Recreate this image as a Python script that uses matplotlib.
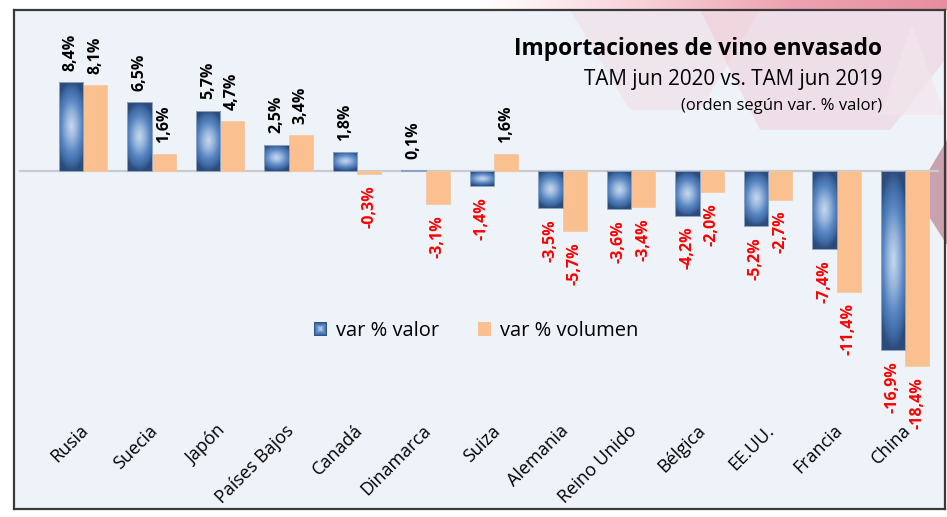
import numpy as np
import matplotlib
matplotlib.use('Agg')
import matplotlib.pyplot as plt
from matplotlib.patches import Rectangle, Polygon
from matplotlib.colors import LinearSegmentedColormap
from matplotlib.legend_handler import HandlerBase

# ---------------- data ----------------
categories = ['Rusia', 'Suecia', 'Japón', 'Países Bajos', 'Canadá', 'Dinamarca', 'Suiza',
              'Alemania', 'Reino Unido', 'Bélgica', 'EE.UU.', 'Francia', 'China']
var_valor = [8.4, 6.5, 5.7, 2.5, 1.8, 0.1, -1.4, -3.5, -3.6, -4.2, -5.2, -7.4, -16.9]
var_volumen = [8.1, 1.6, 4.7, 3.4, -0.3, -3.1, 1.6, -5.7, -3.4, -2.0, -2.7, -11.4, -18.4]
series_names = ['var % valor', 'var % volumen']
title_lines = ['Importaciones de vino envasado', 'TAM jun 2020 vs. TAM jun 2019',
               '(orden según var. % valor)']

# ---------------- style ----------------
plt.rcParams['font.family'] = ['Open Sans', 'DejaVu Sans']
W, H = 947, 517
BG = '#EEF2F9'
ORANGE = '#FAC08F'
blue_cmap = LinearSegmentedColormap.from_list(
    'blue', [(0.0, '#C8D8EE'), (0.3, '#98B5DC'), (0.6, '#5886C2'), (0.85, '#3D67A0'),
             (1.0, '#2C4B7A')])

fig = plt.figure(figsize=(W / 100, H / 100), dpi=100)

# decorative background (pixel coordinates, y downwards)
deco = fig.add_axes([0, 0, 1, 1], zorder=-1)
deco.set_xlim(0, W)
deco.set_ylim(H, 0)
deco.axis('off')
deco.add_patch(Rectangle((14, 10), 931, 499, facecolor=BG, edgecolor='none', zorder=0))
pink_cmap = LinearSegmentedColormap.from_list('p', ['#FFFFFF', '#F8D3DA', '#EEA2B1', '#E78FA1'])
deco.imshow(np.linspace(0, 1, 256)[None, :], extent=[480, 947, 10, 0], cmap=pink_cmap,
            aspect='auto', zorder=1)
for pts, col, a in [
    ([(570, 10), (760, 10), (700, 110), (630, 110)], '#F2CFD8', 0.35),
    ([(700, 10), (945, 10), (945, 60), (890, 130), (760, 130)], '#EFC0CC', 0.4),
    ([(880, 115), (912, 25), (945, 115)], '#F3E6EC', 0.7),
    ([(947, 140), (928, 172), (928, 215), (947, 245)], '#C9A1AF', 1.0),
]:
    deco.add_patch(Polygon(pts, closed=True, facecolor=col, edgecolor='none', alpha=a, zorder=2))

# ---------------- main axes ----------------
ax = fig.add_axes([14 / W, (H - 509) / H, 931 / W, 499 / H])
ax.set_facecolor('none')
n = len(categories)
x = np.arange(n)
px_per_unit_x = 68.5
XLIM = (-(83 - 14) / px_per_unit_x, (n - 1) + (945 - 905) / px_per_unit_x)
scale_y = 10.6
YLIM = ((171 - 509) / scale_y, (171 - 10) / scale_y)
ax.set_xticks([])
ax.set_yticks([])
for s in ax.spines.values():
    s.set_color('#3A3A3A')
    s.set_linewidth(1.6)

ax.axhline(0, xmin=6 / 931, xmax=924 / 931, color='#C8CBD0', lw=1.6, zorder=1.5)

w = 0.355
b1 = ax.bar(x - w / 2, var_valor, w, color='#4A76B1', edgecolor='none', zorder=2)
b2 = ax.bar(x + w / 2, var_volumen, w, color=ORANGE, edgecolor='#F6C8A2', lw=0.6, zorder=2)

u = np.linspace(-1, 1, 80)
v = np.linspace(-1, 1, 240)
U, V = np.meshgrid(u, v)
Z = np.clip(np.sqrt(0.5 * U ** 2 + V ** 2), 0, 1)
for rect in b1:
    x0, y0 = rect.get_x(), rect.get_y()
    rw, rh = rect.get_width(), rect.get_height()
    lo, hi = min(y0, y0 + rh), max(y0, y0 + rh)
    im = ax.imshow(Z, extent=[x0, x0 + rw, lo, hi], cmap=blue_cmap, vmin=0, vmax=1,
                   aspect='auto', interpolation='bilinear', zorder=2.1)
    im.set_clip_path(rect)
ax.bar(x - w / 2, var_valor, w, color='none', edgecolor='#8DA3C3', lw=0.7, zorder=2.2)
ax.set_xlim(*XLIM)
ax.set_ylim(*YLIM)


def fmt(val):
    return f'{val:.1f}'.replace('.', ',') + '%'


for xs, vals in [(x - w / 2, var_valor), (x + w / 2, var_volumen)]:
    for xi, val in zip(xs, vals):
        if val >= 0:
            ax.annotate(fmt(val), xy=(xi, val), xytext=(0, 8), textcoords='offset points',
                        rotation=90, ha='center', va='bottom', fontsize=11.5,
                        fontweight='bold', color='black', zorder=4)
        else:
            ax.annotate(fmt(val), xy=(xi, val), xytext=(0, -8), textcoords='offset points',
                        rotation=90, ha='center', va='top', fontsize=11.5,
                        fontweight='bold', color='#FF0000', zorder=4)

for xi, cat in zip(x, categories):
    ax.text(xi + 0.045, (171 - 428) / scale_y, cat, rotation=45, rotation_mode='anchor',
            ha='right', va='center', fontsize=13, color='black')


class GradHandler(HandlerBase):
    def create_artists(self, legend, orig_handle, xdescent, ydescent, width, height,
                       fontsize, trans):
        s = height
        cx = -xdescent + width / 2
        cy = -ydescent + height / 2
        arts = []
        steps = 8
        for k in range(steps):
            f = 1 - k / steps
            col = blue_cmap(0.95 * f)
            side = s * f
            r = Rectangle((cx - side / 2, cy - side / 2), side, side, facecolor=col,
                          edgecolor='none', transform=trans)
            arts.append(r)
        return arts


h1 = Rectangle((0, 0), 1, 1, facecolor='#4A76B1')
h2 = Rectangle((0, 0), 1, 1, facecolor=ORANGE, edgecolor='none')
leg = ax.legend([h1, h2], series_names, handler_map={h1: GradHandler()},
                loc='center', bbox_to_anchor=((476 - 14) / 931, (509 - 331) / 499),
                ncol=2, frameon=False, fontsize=14.5, handlelength=0.65,
                handleheight=0.65, handletextpad=0.45, columnspacing=1.9)

fig.text(882 / W, 1 - 55 / H, title_lines[0], ha='right', va='baseline', fontsize=16.4,
         fontweight='bold', color='black')
fig.text(882 / W, 1 - 85 / H, title_lines[1], ha='right', va='baseline', fontsize=14.9,
         color='black')
fig.text(882 / W, 1 - 110 / H, title_lines[2], ha='right', va='baseline', fontsize=12,
         color='black')

fig.savefig('out.png', dpi=100)
